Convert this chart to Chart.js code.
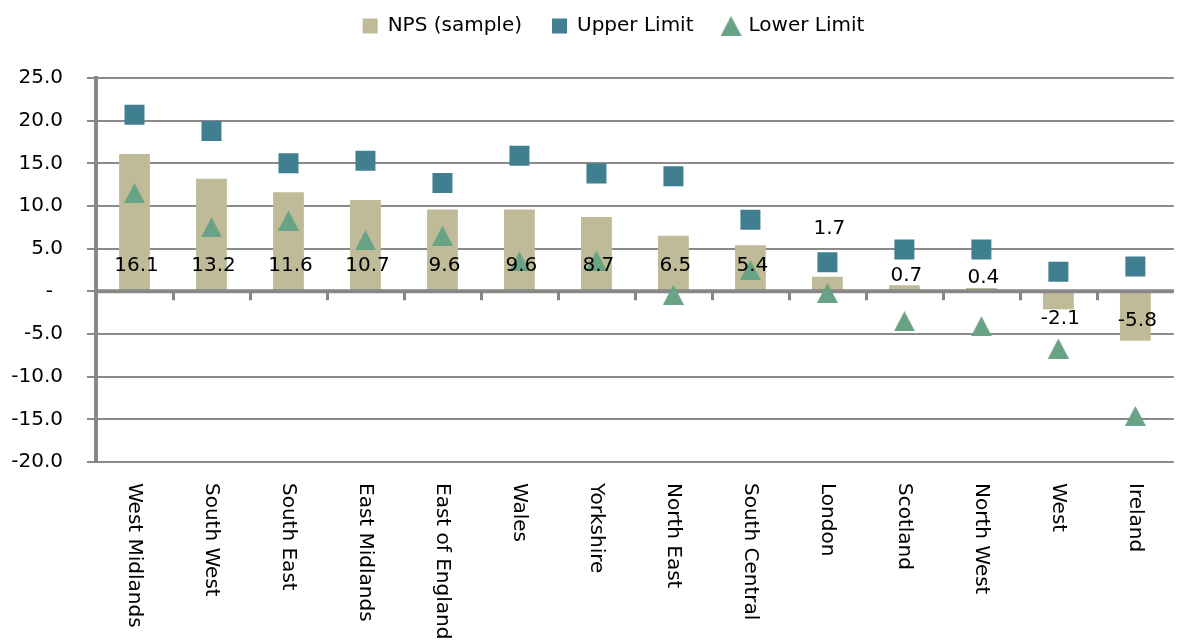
<!DOCTYPE html>
<html>
<head>
<meta charset="utf-8">
<script src="https://cdn.jsdelivr.net/npm/chart.js@4"></script>
<style>
html,body{margin:0;padding:0;overflow:hidden;background:#fff}
#wrap{width:1188px;height:644px}
</style>
</head>
<body>
<div id="wrap"><canvas id="c" width="1188" height="644"></canvas></div>
<script>
const categories = ['West Midlands','South West','South East','East Midlands','East of England','Wales','Yorkshire','North East','South Central','London','Scotland','North West','West','Ireland'];
const npsValues  = [16.1, 13.2, 11.6, 10.7, 9.6, 9.6, 8.7, 6.5, 5.4, 1.7, 0.7, 0.4, -2.1, -5.8];
const upperLimit = [20.7, 18.8, 15.0, 15.3, 12.7, 15.9, 13.8, 13.5, 8.4, 3.4, 4.9, 4.9, 2.3, 2.9];
const lowerLimit = [11.5, 7.5, 8.3, 6.0, 6.5, 3.5, 3.6, -0.4, 2.5, -0.2, -3.5, -4.1, -6.7, -14.6];
const seriesNames = ['NPS (sample)', 'Upper Limit', 'Lower Limit'];
const yMin = -20, yMax = 25, yStep = 5;
const zeroTickLabel = '-';

const FONT = "'DejaVu Sans', sans-serif";
const COL_BAR = '#bfbb98', COL_UP = '#3f7f8f', COL_LOW = '#67a384';

function makeTriangle(color){
  const c = document.createElement('canvas');
  c.width = 21; c.height = 20;
  const g = c.getContext('2d');
  g.fillStyle = color;
  g.beginPath(); g.moveTo(10.5,0); g.lineTo(21,20); g.lineTo(0,20); g.closePath(); g.fill();
  return c;
}
const triImg = makeTriangle(COL_LOW);

const legendTweakPlugin = {
  id: 'legendTweak',
  beforeLayout(chart, args, opts){
    const lg = chart.legend;
    if (lg && !lg._tweaked){
      const f = lg.fit;
      lg.fit = function(){ f.call(this); this.height = opts.height; };
      const d = lg.draw;
      lg.draw = function(){
        this.ctx.save();
        this.ctx.translate(opts.shiftX, 0);
        d.call(this);
        this.ctx.restore();
      };
      lg._tweaked = true;
    }
  }
};

const zeroAxisPlugin = {
  id: 'zeroAxis',
  afterDatasetDraw(chart, args){
    if (args.index !== 0) return;
    const {ctx, chartArea, scales:{x, y}} = chart;
    const y0 = y.getPixelForValue(0);
    ctx.save();
    ctx.strokeStyle = '#878787';
    ctx.lineWidth = 4;
    ctx.beginPath(); ctx.moveTo(chartArea.left, y0); ctx.lineTo(chartArea.right, y0); ctx.stroke();
    ctx.lineWidth = 3;
    ctx.beginPath();
    for (let i = 1; i < categories.length; i++){
      const bx = Math.round((x.getPixelForValue(i-1) + x.getPixelForValue(i)) / 2) + 0.5;
      ctx.moveTo(bx, y0); ctx.lineTo(bx, y0 + 9);
    }
    ctx.stroke();
    ctx.restore();
  }
};

const npsLabelPlugin = {
  id: 'npsLabels',
  afterDatasetsDraw(chart, args, opts){
    const {ctx, scales:{y}} = chart;
    const meta = chart.getDatasetMeta(0);
    const base = y.getPixelForValue(0);
    ctx.save();
    ctx.font = '20px ' + FONT;
    ctx.fillStyle = '#000';
    ctx.textAlign = 'center';
    ctx.textBaseline = 'middle';
    meta.data.forEach((bar, i) => {
      const v = npsValues[i];
      const end = y.getPixelForValue(v);
      let cy;
      const raised = opts.raised || {};
      if (raised[categories[i]] !== undefined) cy = base - raised[categories[i]];
      else if (v >= 0) cy = Math.max(base - 26, end - 10);
      else cy = Math.min(base + 29, end + 10);
      ctx.fillText(v.toFixed(1), bar.x + 2, cy);
    });
    ctx.restore();
  }
};

const axisTextPlugin = {
  id: 'axisText',
  afterDraw(chart){
    const {ctx, scales:{x, y}} = chart;
    ctx.save();
    ctx.font = '20px ' + FONT;
    ctx.fillStyle = '#000';
    // zero tick label of the y axis (accounting-style dash, indented)
    ctx.textAlign = 'right';
    ctx.textBaseline = 'middle';
    ctx.fillText(zeroTickLabel, y.right - 9 - 24 - 10, y.getPixelForValue(0));
    // rotated category labels
    ctx.textAlign = 'left';
    categories.forEach((c, i) => {
      ctx.save();
      ctx.translate(x.getPixelForValue(i), x.top + 21);
      ctx.rotate(Math.PI / 2);
      ctx.fillText(c, 0, 0);
      ctx.restore();
    });
    ctx.restore();
  }
};

new Chart(document.getElementById('c'), {
  type: 'bar',
  data: {
    labels: categories,
    datasets: [
      { type:'bar', label: seriesNames[0], data: npsValues, backgroundColor: COL_BAR, borderWidth: 0,
        pointStyle: 'rect', barPercentage: 0.4, categoryPercentage: 1, order: 2 },
      { type:'line', label: seriesNames[1], data: upperLimit, showLine: false,
        pointStyle: 'rect', pointRadius: 14.14, backgroundColor: COL_UP, borderColor: COL_UP,
        pointBackgroundColor: COL_UP, pointBorderColor: COL_UP, pointBorderWidth: 0, order: 1 },
      { type:'line', label: seriesNames[2], data: lowerLimit, showLine: false,
        pointStyle: triImg, pointRadius: 10, backgroundColor: COL_LOW, borderColor: COL_LOW,
        pointBackgroundColor: COL_LOW, pointBorderColor: COL_LOW, pointBorderWidth: 0, order: 1 }
    ]
  },
  options: {
    responsive: false,
    animation: false,
    events: [],
    layout: { padding: { top: -14, left: 0, right: 0, bottom: 0 } },
    plugins: {
      legend: {
        position: 'top',
        labels: { usePointStyle: true, boxWidth: 15, boxHeight: 15, padding: 30,
                  font: { family: FONT, size: 20 }, color: '#000',
                  sort: (a, b) => a.datasetIndex - b.datasetIndex }
      },
      tooltip: { enabled: false },
      legendTweak: { height: 92, shiftX: 19.5 },
      npsLabels: { raised: { 'London': 63 } }
    },
    scales: {
      x: {
        type: 'category', offset: true,
        grid: { display: false }, border: { display: false },
        ticks: { display: false },
        afterFit(s){ s.height = 182; }
      },
      y: {
        min: yMin, max: yMax,
        ticks: { stepSize: yStep, font: { family: FONT, size: 20 }, padding: 24,
                 color: c => (c.tick && c.tick.value === 0) ? 'rgba(0,0,0,0)' : '#000',
                 callback: v => v === 0 ? zeroTickLabel : Number(v).toFixed(1) },
        grid: { color: '#8a8a8a', lineWidth: 2, tickLength: 9 },
        border: { color: '#878787', width: 4 },
        afterFit(s){ s.width = 96; }
      }
    }
  },
  plugins: [legendTweakPlugin, zeroAxisPlugin, npsLabelPlugin, axisTextPlugin]
});
</script>
</body>
</html>
